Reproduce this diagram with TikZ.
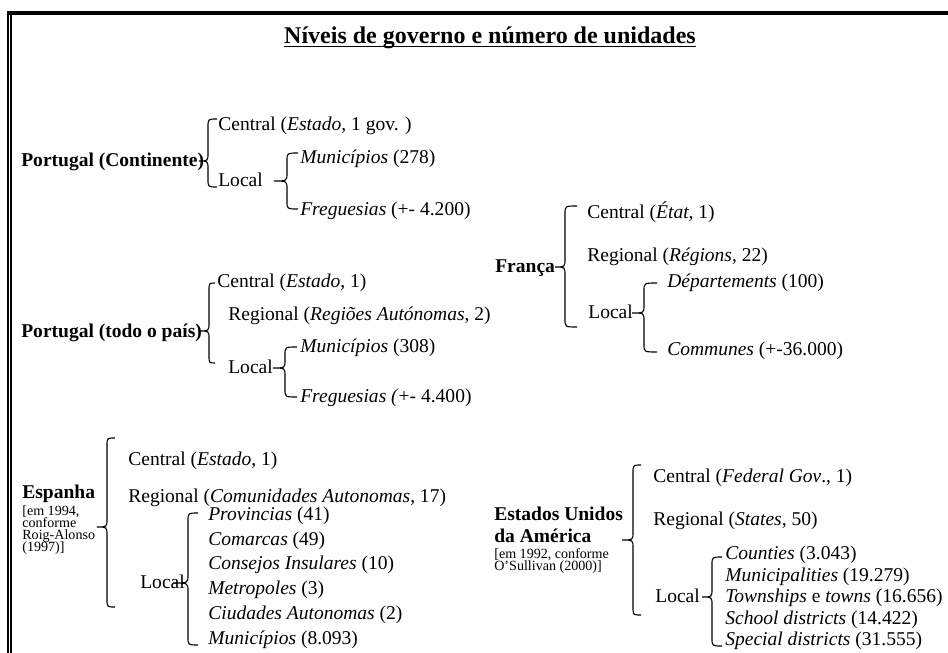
\documentclass[tikz,border=0pt]{standalone}
\usepackage{fontspec}
\setmainfont{Liberation Serif}
% word-style brace: #1 tip x, #2 vertical x, #3 end x, #4 top y, #5 mid y, #6 bottom y
\newcommand{\wbr}[6]{%
  \draw[bracel] (#3,#4) .. controls (#2,#4) .. (#2,{#4+8}) -- (#2,{#5-8})
     .. controls (#2,#5) .. (#1,#5) .. controls (#2,#5) .. (#2,{#5+8})
     -- (#2,{#6-8}) .. controls (#2,#6) .. (#3,#6);}
\begin{document}
\begin{tikzpicture}[x={(0.625pt,0)},y={(0,-0.625pt)},
  txt/.style={anchor=base west, inner sep=0pt, font=\fontsize{12.2}{14}\selectfont},
  hd/.style={anchor=base west, inner sep=0pt, font=\fontsize{12.2}{14}\selectfont\bfseries},
  sm/.style={anchor=base west, inner sep=0pt, font=\fontsize{8.8}{10}\selectfont},
  bracel/.style={line width=0.7pt}]
\clip (0,0) rectangle (948,653);
\fill[white] (0,0) rectangle (948,653);
% page border
\fill (7,11) rectangle (960,15);
\fill (7,11) rectangle (9,660);
\fill (10,15) rectangle (12,660);
% title
\node[anchor=base, inner sep=0pt, font=\fontsize{15}{18}\selectfont\bfseries] (title) at (490,43) {Níveis de governo e número de unidades};
\draw[line width=0.9pt] ([yshift=-2.2pt]title.base west) -- ([yshift=-2.2pt]title.base east);

% Portugal (Continente)
\node[hd] (ptc) at (21,166) {Portugal (Continente)};
\wbr{199}{208}{217}{119}{161}{187}
\node[txt] (ptcC) at (218,130) {Central (\textit{Estado}, 1 gov. )};
\node[txt] (ptcL) at (218,186) {Local};
\wbr{274}{287}{298}{153}{181}{209}
\node[txt] (ptcM) at (300,163) {\textit{Municípios} (278)};
\node[txt] (ptcF) at (300,215) {\textit{Freguesias} (+- 4.200)};

% Portugal (todo o pais)
\node[hd] (ptt) at (21,337) {Portugal (todo o país)};
\wbr{199}{209}{215}{283}{331}{363}
\node[txt] (pttC) at (217,287) {Central (\textit{Estado}, 1)};
\node[txt] (pttR) at (228,320) {Regional (\textit{Regiões Autónomas}, 2)};
\node[txt] (pttL) at (228,373) {Local};
\wbr{273}{285}{297}{347}{368}{397}
\node[txt] (pttM) at (300,352) {\textit{Municípios} (308)};
\node[txt] (pttF) at (300,402) {\textit{Freguesias (}+- 4.400)};

% Franca
\node[hd] (fr) at (495,272) {França};
\wbr{555}{565}{577}{206}{267}{327}
\node[txt] (frC) at (587,218) {Central (\textit{État}, 1)};
\node[txt] (frR) at (587,261) {Regional (\textit{Régions}, 22)};
\node[txt] (frL) at (588,318) {Local};
\wbr{632}{644}{657}{283}{313}{352}
\node[txt] (frD) at (667,287) {\textit{Départements} (100)};
\node[txt] (frCo) at (667,355) {\textit{Communes} (+-36.000)};

% Espanha
\node[hd] (es) at (22,498) {Espanha};
\node[sm] (es1) at (22,515) {[em 1994,};
\node[sm] (es2) at (22,527) {conforme};
\node[sm] (es3) at (22,539) {Roig-Alonso};
\node[sm] (es4) at (22,551) {(1997)]};
\wbr{97}{107}{115}{438}{527}{607}
\node[txt] (esC) at (128,465) {Central (\textit{Estado}, 1)};
\node[txt] (esR) at (128,502) {Regional (\textit{Comunidades Autonomas}, 17)};
\node[txt] (esL) at (140,588) {Local};
\wbr{173}{188}{198}{513}{583}{645}
\node[txt] (esI1) at (208,520) {\textit{Provincias} (41)};
\node[txt] (esI2) at (208,545) {\textit{Comarcas} (49)};
\node[txt] (esI3) at (208,569) {\textit{Consejos Insulares} (10)};
\node[txt] (esI4) at (208,594) {\textit{Metropoles} (3)};
\node[txt] (esI5) at (208,619) {\textit{Ciudades Autonomas} (2)};
\node[txt] (esI6) at (208,644) {\textit{Municípios} (8.093)};

% Estados Unidos
\node[hd] (us1) at (494,520) {Estados Unidos};
\node[hd] (us2) at (494,542) {da América};
\node[sm] (us3) at (494,558) {[em 1992, conforme};
\node[sm] (us4) at (494,570) {O’Sullivan (2000)]};
\wbr{622}{633}{641}{465}{540}{615}
\node[txt] (usC) at (653,482) {Central (\textit{Federal Gov}., 1)};
\node[txt] (usR) at (653,525) {Regional (\textit{States}, 50)};
\node[txt] (usL) at (655,602) {Local};
\wbr{702}{712}{722}{557}{597}{646}
\node[txt] (usI1) at (725,559) {\textit{Counties} (3.043)};
\node[txt] (usI2) at (725,581) {\textit{Municipalities} (19.279)};
\node[txt] (usI3) at (725,602) {\textit{Townships} e \textit{towns} (16.656)};
\node[txt] (usI4) at (725,624) {\textit{School districts} (14.422)};
\node[txt] (usI5) at (725,645) {\textit{Special districts} (31.555)};
\end{tikzpicture}
\end{document}
